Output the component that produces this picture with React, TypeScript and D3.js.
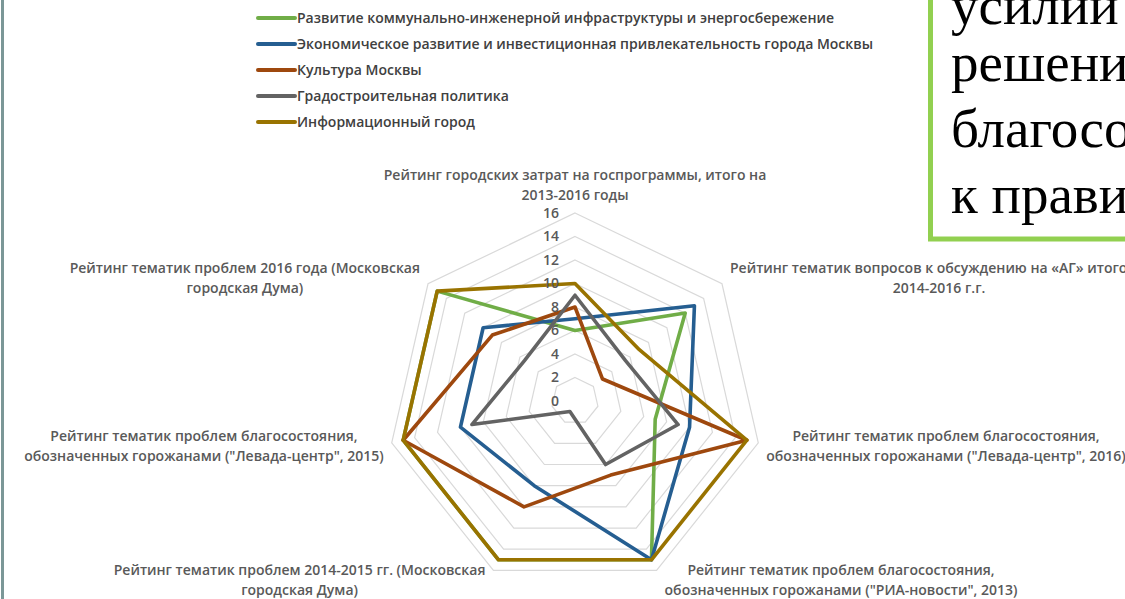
import { useEffect, useRef } from "react";
import * as d3 from "d3";

const axisLabels = [
  ["Рейтинг городских затрат на госпрограммы, итого на", "2013-2016 годы"],
  ["Рейтинг тематик вопросов к обсуждению на «АГ» итого на", "2014-2016 г.г."],
  ["Рейтинг тематик проблем благосостояния,", "обозначенных горожанами (\"Левада-центр\", 2016)"],
  ["Рейтинг тематик проблем благосостояния,", "обозначенных горожанами (\"РИА-новости\", 2013)"],
  ["Рейтинг тематик проблем 2014-2015 гг. (Московская", "городская Дума)"],
  ["Рейтинг тематик проблем благосостояния,", "обозначенных горожанами (\"Левада-центр\", 2015)"],
  ["Рейтинг тематик проблем 2016 года (Московская", "городская Дума)"],
];

const seriesNames = [
  "Развитие коммунально-инженерной инфраструктуры и энергосбережение",
  "Экономическое развитие и инвестиционная привлекательность города Москвы",
  "Культура Москвы",
  "Градостроительная политика",
  "Информационный город",
];

const utilitiesValues = [6, 12, 7, 15, 15, 15, 15];
const economyValues = [7, 13, 10, 15, 8, 10, 10];
const cultureValues = [8, 3, 15, 7, 10, 15, 9];
const urbanPlanningValues = [9, 5.5, 9, 6, 1, 9, 5.5];
const infoCityValues = [10, 7, 15, 15, 15, 15, 15];

const tickValues = [0, 2, 4, 6, 8, 10, 12, 14, 16];

const noteLines = ["усилий", "решения", "благосостояния", "к правительству"];

const colors = ["#70ad47", "#255e91", "#9e480e", "#636363", "#997300"];

export default function App() {
  const svgRef = useRef(null);

  useEffect(() => {
    if (!svgRef.current) return;
    const width = 1125;
    const height = 599;
    const cx = 575;
    const cy = 401;
    const R = 188;
    const font = "'Open Sans', sans-serif";

    const svg = d3.select(svgRef.current);
    svg.selectAll("*").remove();
    svg.attr("width", width).attr("height", height);

    svg.append("rect").attr("width", width).attr("height", height).attr("fill", "white");

    // slide edge on the left
    svg
      .append("line")
      .attr("x1", 2.5)
      .attr("x2", 2.5)
      .attr("y1", 0)
      .attr("y2", height)
      .attr("stroke", "#7b9797")
      .attr("stroke-width", 3);

    const series = [utilitiesValues, economyValues, cultureValues, urbanPlanningValues, infoCityValues];
    const n = axisLabels.length;
    const angle = (i) => (i * 2 * Math.PI) / n;

    const r = d3.scaleLinear().domain([0, 16]).range([0, R]);

    const radial = d3
      .lineRadial()
      .angle((d, i) => angle(i))
      .radius((d) => r(d))
      .curve(d3.curveLinearClosed);

    const g = svg.append("g").attr("transform", `translate(${cx},${cy})`);

    // grid rings
    tickValues
      .filter((t) => t > 0)
      .forEach((t) => {
        g.append("path")
          .attr("d", radial(d3.range(n).map(() => t)))
          .attr("fill", "none")
          .attr("stroke", "#d9d9d9")
          .attr("stroke-width", 1.2);
      });

    // series
    series.forEach((vals, si) => {
      g.append("path")
        .attr("d", radial(vals))
        .attr("fill", "none")
        .attr("stroke", colors[si])
        .attr("stroke-width", 3.6)
        .attr("stroke-linejoin", "round");
    });

    // tick labels
    tickValues.forEach((t) => {
      g.append("text")
        .attr("x", -16)
        .attr("y", -r(t))
        .attr("dy", "0.35em")
        .attr("text-anchor", "end")
        .attr("fill", "#595959")
        .attr("font-family", font)
        .attr("font-weight", 600)
        .attr("font-size", "14px")
        .text(t);
    });

    // axis labels
    const lineH = 20;
    const gap = 8;
    axisLabels.forEach((lines, k) => {
      const sx = Math.sin(angle(k));
      const dy = -Math.cos(angle(k));
      const vx = cx + r(16) * sx;
      const vy = cy + r(16) * dy;
      const tg = svg.append("g");
      const texts = lines.map((l) =>
        tg
          .append("text")
          .attr("text-anchor", "middle")
          .attr("dy", "0.35em")
          .attr("fill", "#595959")
          .attr("font-family", font)
          .attr("font-weight", 600)
          .attr("font-size", "14px")
          .text(l)
      );
      const w = d3.max(texts, (t) => t.node().getComputedTextLength());
      let x = vx;
      if (sx > 0.01) x = vx + gap + w / 2;
      else if (sx < -0.01) x = vx - gap - w / 2;
      let yc;
      if (dy < -0.99) yc = vy - 18 - ((lines.length - 1) * lineH) / 2;
      else yc = vy + 10 * dy + 1;
      texts.forEach((t, i) => {
        t.attr("x", x).attr("y", yc + (i - (lines.length - 1) / 2) * lineH);
      });
    });

    // legend
    const ly = d3.scalePoint().domain(seriesNames).range([18, 122]);
    seriesNames.forEach((name, i) => {
      svg
        .append("line")
        .attr("x1", 258)
        .attr("x2", 295)
        .attr("y1", ly(name))
        .attr("y2", ly(name))
        .attr("stroke", colors[i])
        .attr("stroke-width", 4)
        .attr("stroke-linecap", "round");
      svg
        .append("text")
        .attr("x", 297)
        .attr("y", ly(name))
        .attr("dy", "0.35em")
        .attr("fill", "#404040")
        .attr("font-family", font)
        .attr("font-weight", 600)
        .attr("font-size", "14px")
        .text(name);
    });

    // overlapping slide text box
    svg
      .append("rect")
      .attr("x", 930.5)
      .attr("y", -10)
      .attr("width", 300)
      .attr("height", 249)
      .attr("fill", "white")
      .attr("stroke", "#92d050")
      .attr("stroke-width", 5);
    const baselines = [24, 81, 147, 213];
    noteLines.forEach((l, i) => {
      svg
        .append("text")
        .attr("x", 951)
        .attr("y", baselines[i])
        .attr("fill", "black")
        .attr("font-family", "'Liberation Serif', serif")
        .attr("font-size", "55px")
        .text(l);
    });
  }, []);

  return (
    <svg
      ref={svgRef}
      style={{ position: "absolute", left: 0, top: 0, display: "block" }}
    />
  );
}
